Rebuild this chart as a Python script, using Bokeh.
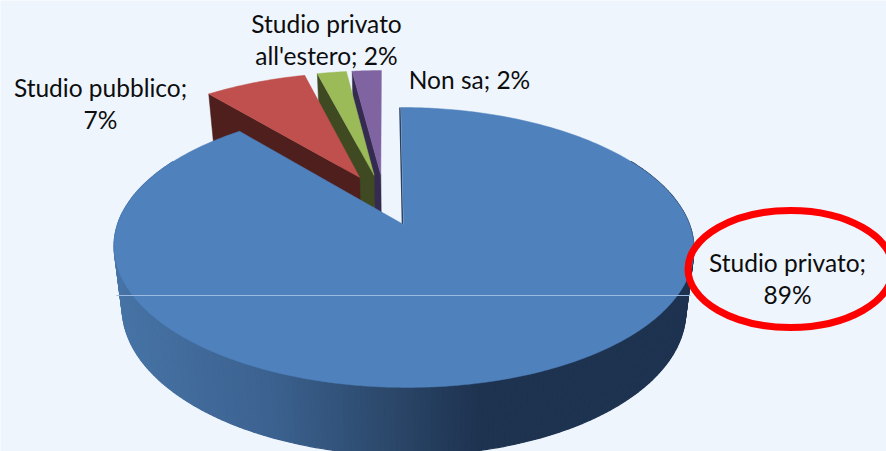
import numpy as np
from bokeh.plotting import figure
from bokeh.embed import file_html
from bokeh.resources import INLINE
from bokeh.core.properties import value as fixed

categories = ["Studio privato", "Studio pubblico", "Studio privato all'estero", "Non sa"]
values = [89, 7, 2, 2]
top_colors = ["#4f81bd", "#c0504d", "#9bbb59", "#8064a2"]
wall_colors = ["#2a4060", "#4f1f1e", "#3f4a23", "#352a4f"]
label_lines = [["Studio privato;", "89%"], ["Studio pubblico;", "7%"],
               ["Studio privato", "all'estero; 2%"], ["Non sa; 2%"]]
label_x = [787, 100, 326, 469]
label_y = [262, 87, 23, 79]

BG = "#eef5fd"
EXPLODE = 0.2
PERSP = 0.164
SHEAR = 3.0
CX = 403


def top_plane(u, v):
    u, v = np.asarray(u), np.asarray(v)
    w = 1 + PERSP * v
    return CX + (286 * u - SHEAR * v) / w, 224 - 136.2 * v / w


def low_plane(u, v):
    u, v = np.asarray(u), np.asarray(v)
    w = 1 + PERSP * v
    return CX + (278 * u - SHEAR * v) / w, 285 - 142 * v / w


p = figure(width=886, height=451, x_range=(0, 886), y_range=(451, 0),
           output_backend="svg", toolbar_location=None,
           background_fill_color=BG, border_fill_color=BG,
           min_border=0, outline_line_color=None)
p.axis.visible = False
p.grid.visible = False

total = sum(values)
edges = np.cumsum([0] + values) / total * 2 * np.pi
mids = (edges[:-1] + edges[1:]) / 2

# the whole pie is pulled apart: the common centre sits opposite the big slice
c_u = -EXPLODE * np.sin(mids[0])
c_v = -EXPLODE * np.cos(mids[0])
apex_u = c_u + EXPLODE * np.sin(mids)
apex_v = c_v + EXPLODE * np.cos(mids)

# small slices, back to front
for i in [3, 2, 1]:
    a0 = edges[i]
    tip_u, tip_v = apex_u[i] + np.sin(a0), apex_v[i] + np.cos(a0)
    tx, ty = top_plane([tip_u, apex_u[i]], [tip_v, apex_v[i]])
    lx, ly = low_plane([apex_u[i], tip_u], [apex_v[i], tip_v])
    p.patch(list(tx) + list(lx), list(ty) + list(ly),
            fill_color=wall_colors[i], line_color=wall_colors[i], line_width=0.5)
    th = np.linspace(edges[i], edges[i + 1], 30)
    sx, sy = top_plane(np.r_[apex_u[i], apex_u[i] + np.sin(th)],
                       np.r_[apex_v[i], apex_v[i] + np.cos(th)])
    p.patch(sx, sy, fill_color=top_colors[i], line_color=top_colors[i], line_width=0.5)

# outer wall of the big slice, shaded from left to right
th = np.deg2rad(np.arange(60, 300.01, 1.0))
xs, ys, cols = [], [], []
for a, b in zip(th[:-1], th[1:]):
    pair = np.array([a, b])
    tx, ty = top_plane(np.sin(pair), np.cos(pair))
    lx, ly = low_plane(np.sin(pair), np.cos(pair))
    xs.append([tx[0], tx[1], lx[1], lx[0]])
    ys.append([ty[0], ty[1], ly[1], ly[0]])
    xm = tx.mean()
    r = np.interp(xm, [115, 270, 380, 480], [0x47, 0x3c, 0x2d, 0x1e])
    g = np.interp(xm, [115, 270, 380, 480], [0x74, 0x62, 0x4a, 0x33])
    b_ = np.interp(xm, [115, 270, 380, 480], [0xa6, 0x90, 0x6d, 0x50])
    cols.append("#%02x%02x%02x" % (int(r), int(g), int(b_)))
p.patches(xs, ys, fill_color=cols, line_color=cols, line_width=1.2)

# big slice
tx, ty = top_plane([0, 0], [0, 1])
p.line(tx - 1, ty, line_color=wall_colors[0], line_width=1.5)
th = np.linspace(edges[0], edges[1], 400)
sx, sy = top_plane(np.r_[0, np.sin(th)], np.r_[0, np.cos(th)])
p.patch(sx, sy, fill_color=top_colors[0], line_color=top_colors[0], line_width=0.5)

# thin light line across the pie
p.segment(116, 295, 690, 295, line_color="#9dbbe0", line_width=1)

# highlight ring round the main label
p.ellipse(790, 268.5, width=205, height=117, fill_color=None,
          line_color="#ff0000", line_width=7)

for lines, x, y in zip(label_lines, label_x, label_y):
    for k, line in enumerate(lines):
        p.text([x], [y + 32 * k], text=[line], text_align="center", text_baseline="middle",
               text_font=fixed("Lato"), text_font_size="24.5px", text_color="#0d0d0d")

open("out.html", "w").write(file_html(p, INLINE))
